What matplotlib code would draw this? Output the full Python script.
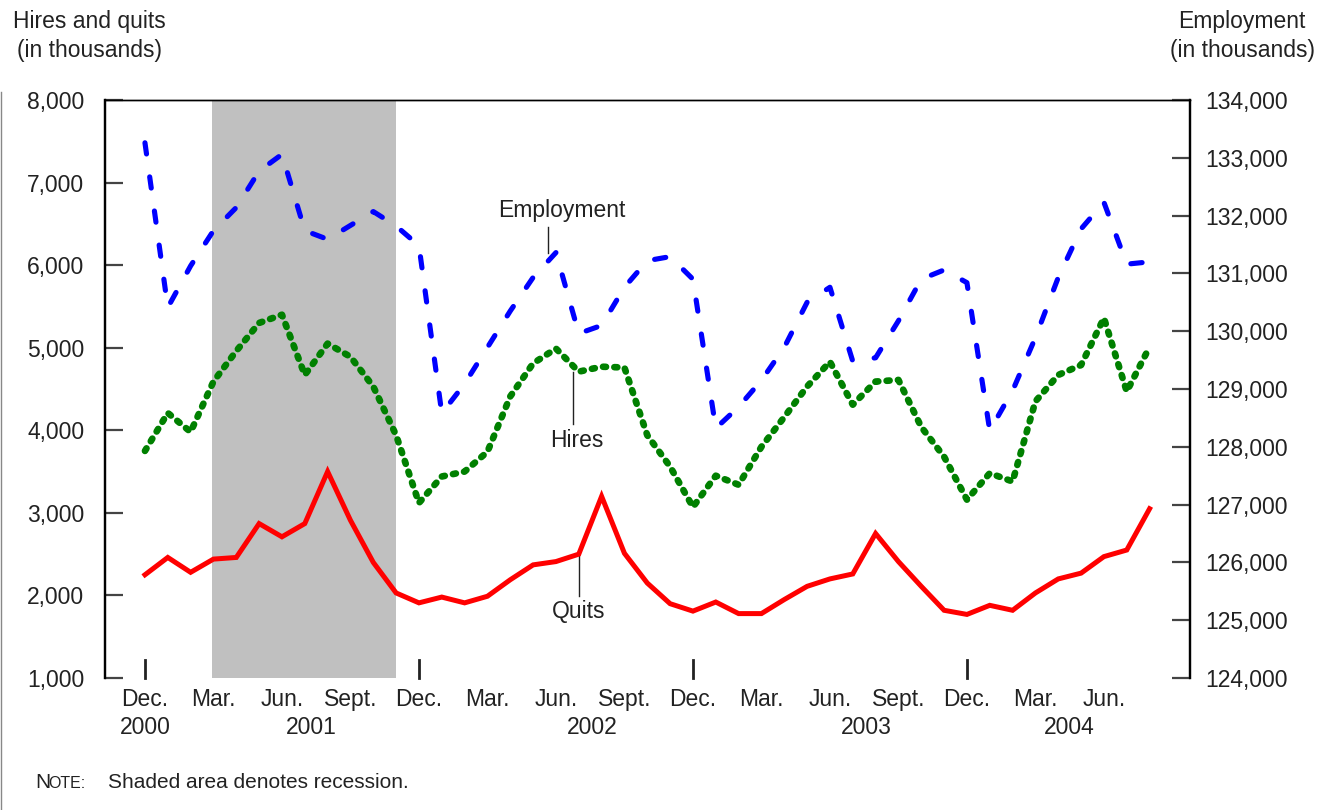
import numpy as np
import matplotlib
matplotlib.use('Agg')
import matplotlib.pyplot as plt
from matplotlib.ticker import FuncFormatter
from matplotlib.lines import Line2D

plt.rcParams['font.family'] = ['Liberation Sans', 'DejaVu Sans']

# monthly, Dec 2000 .. Aug 2004
hires = [3750, 4210, 3980, 4590, 4960, 5300, 5400, 4670, 5050, 4890,
         4530, 3940, 3120, 3440, 3500, 3740, 4410, 4810, 4990, 4710,
         4770, 4760, 3940, 3560, 3070, 3450, 3340, 3800, 4160, 4530,
         4830, 4310, 4590, 4610, 4040, 3680, 3160, 3480, 3380, 4350,
         4670, 4790, 5360, 4470, 5010]
quits = [2250, 2460, 2280, 2440, 2460, 2870, 2710, 2870, 3500, 2910,
         2400, 2030, 1910, 1980, 1910, 1990, 2190, 2370, 2410, 2500,
         3200, 2510, 2150, 1900, 1810, 1920, 1780, 1780, 1950, 2110,
         2200, 2260, 2750, 2410, 2110, 1820, 1770, 1880, 1820, 2030,
         2200, 2270, 2470, 2550, 3050]
employment = [133260, 130410, 131130, 131740, 132140, 132770, 133060, 131740, 131590, 131830,
              132070, 131820, 131480, 128580, 129090, 129720, 130350, 130930, 131360, 129960,
              130100, 130760, 131220, 131290, 130900, 128320, 128690, 129150, 129720, 130500,
              130760, 129480, 129540, 130180, 130900, 131060, 130840, 128280, 128970, 129890,
              130930, 131770, 132230, 131160, 131200]

months = np.arange(len(hires))
quarter_labels = ['Dec.', 'Mar.', 'Jun.', 'Sept.'] * 3 + ['Dec.', 'Mar.', 'Jun.']
quarter_pos = np.arange(0, 45, 3)
years = ['2000', '2001', '2002', '2003', '2004']
year_pos = [0, 7.3, 19.6, 31.6, 40.5]
recession = (2.92, 11.0)

fs = 16.5
tc = '#222222'

fig = plt.figure(figsize=(13.22, 8.10), dpi=100)
ax = fig.add_axes([105/1322, 1 - 678/810, (1190 - 105)/1322, (678 - 100)/810])
ax2 = ax.twinx()

ax.axvspan(recession[0], recession[1], color='#c0c0c0', lw=0, zorder=0)

ax.plot(months, quits, color='#ff0000', lw=3.6, solid_joinstyle='miter', zorder=3)
ax.plot(months, hires, color='#008000', lw=4.8, linestyle=(0, (0.45, 1.25)),
        dash_capstyle='round', zorder=3)
ax2.plot(months, employment, color='#0000ff', lw=3.7, linestyle=(0, (2.2, 4.5)),
         dash_capstyle='round', zorder=3)

ax.set_xlim(-1.75, 45.77)
ax.set_ylim(1000, 8000)
ax2.set_ylim(124000, 134000)

fmt = FuncFormatter(lambda v, p: '{:,.0f}'.format(v))
ax.set_yticks(np.arange(1000, 8001, 1000))
ax.yaxis.set_major_formatter(fmt)
ax2.set_yticks(np.arange(124000, 134001, 1000))
ax2.yaxis.set_major_formatter(fmt)

ax.set_xticks(quarter_pos)
ax.set_xticklabels(quarter_labels)
ax.tick_params(axis='x', length=0, labelsize=fs, pad=7, colors=tc)
for x in quarter_pos[::4]:
    ax.plot([x, x], [1000, 1220], color=tc, lw=2, clip_on=False, zorder=4)
for x, y in zip(year_pos, years):
    ax.text(x, -0.085, y, transform=ax.get_xaxis_transform(), ha='center', va='center',
            fontsize=fs, color=tc)

ax.tick_params(axis='y', direction='in', length=13, width=1.6, color='#444444',
               labelsize=fs, pad=15, labelcolor=tc)
ax2.tick_params(axis='y', direction='in', length=13, width=1.6, color='#444444',
                labelsize=fs, pad=11, labelcolor=tc)

for a in (ax, ax2):
    a.spines['bottom'].set_visible(False)
    a.spines['top'].set_linewidth(1.0)
    a.spines['left'].set_linewidth(1.6)
    a.spines['right'].set_linewidth(1.6)

# labels with leader lines
ax2.text(18.27, 132080, 'Employment', ha='center', va='center', fontsize=fs, color=tc)
ax2.plot([17.65, 17.65], [131800, 131360], color=tc, lw=1)
ax.text(18.9, 3880, 'Hires', ha='center', va='center', fontsize=fs, color=tc)
ax.plot([18.75, 18.75], [4700, 4080], color=tc, lw=1)
ax.text(19.0, 1810, 'Quits', ha='center', va='center', fontsize=fs, color=tc)
ax.plot([19.0, 19.0], [2490, 1990], color=tc, lw=1)

fig.text(89/1322, 1 - 36/810, 'Hires and quits\n(in thousands)', ha='center', va='center',
         fontsize=fs, color=tc, linespacing=1.3)
fig.text(1242/1322, 1 - 36/810, 'Employment\n(in thousands)', ha='center', va='center',
         fontsize=fs, color=tc, linespacing=1.3)

fig.text(35/1322, 1 - 783/810, 'N', ha='left', va='center', fontsize=15, color=tc)
fig.text(48/1322, 1 - 784/810, 'OTE:', ha='left', va='center', fontsize=11.5, color=tc)
fig.text(108/1322, 1 - 783/810, 'Shaded area denotes recession.', ha='left', va='center',
         fontsize=15, color=tc)

fig.add_artist(Line2D([1/1322, 1/1322], [0, 1 - 92/810], color='#888888', lw=1))

fig.savefig('out.png', dpi=100)
